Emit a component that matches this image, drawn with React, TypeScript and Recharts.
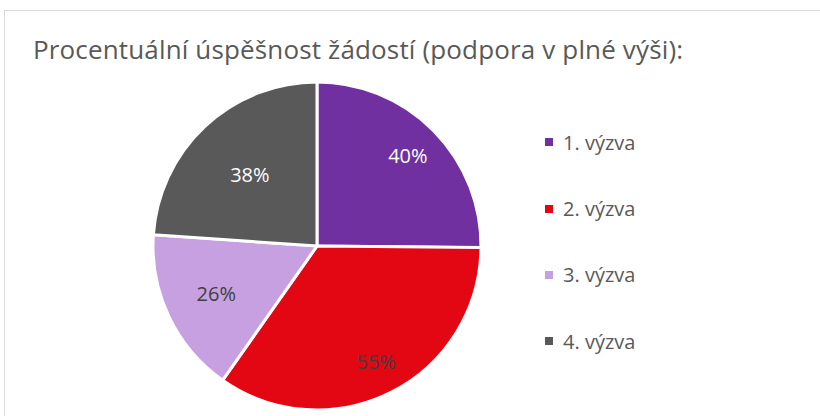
import { PieChart, Pie, Cell, Legend } from "recharts";

const categories = ["1. výzva", "2. výzva", "3. výzva", "4. výzva"];
const values = [40, 55, 26, 38];
const labels = ["40%", "55%", "26%", "38%"];

const COLORS = ["#7030a0", "#e30613", "#c6a0e0", "#595959"];
const LABEL_COLORS = ["#ffffff", "#404040", "#404040", "#ffffff"];
const LABEL_DIST = [0.78, 0.79, 0.68, 0.6];
const FONT = "'Open Sans', 'Noto Sans', sans-serif";

const data = categories.map((name, i) => ({ name, value: values[i], label: labels[i] }));

const renderLabel = (props: any) => {
  const { cx, cy, midAngle, outerRadius, index } = props;
  const RAD = Math.PI / 180;
  const r = outerRadius * LABEL_DIST[index];
  const x = cx + r * Math.cos(-midAngle * RAD);
  const y = cy + r * Math.sin(-midAngle * RAD);
  return (
    <text
      x={x}
      y={y}
      fill={LABEL_COLORS[index]}
      textAnchor="middle"
      dominantBaseline="central"
      fontSize={20}
      fontFamily={FONT}
    >
      {labels[index]}
    </text>
  );
};

const renderLegend = () => (
  <div style={{ fontFamily: FONT }}>
    {categories.map((c, i) => (
      <div
        key={c}
        style={{ display: "flex", alignItems: "center", height: 66.4, color: "#595959", fontSize: 20 }}
      >
        <span style={{ width: 8, height: 8, background: COLORS[i], marginRight: 10, display: "inline-block" }} />
        {c}
      </div>
    ))}
  </div>
);

export default function App() {
  return (
    <div
      style={{
        position: "absolute",
        left: 0,
        top: 0,
        width: 820,
        height: 416,
        overflow: "hidden",
        background: "#fff",
      }}
    >
      <div
        style={{
          position: "absolute",
          left: 4,
          top: 10,
          width: 900,
          height: 500,
          border: "1px solid #d9d9d9",
        }}
      />
      <div
        style={{
          position: "absolute",
          left: 33,
          top: 31,
          fontFamily: FONT,
          fontSize: 26,
          letterSpacing: 0.15,
          color: "#595959",
          whiteSpace: "nowrap",
        }}
      >
        Procentuální úspěšnost žádostí (podpora v plné výši):
      </div>
      <div style={{ position: "absolute", left: 0, top: 0 }}>
        <PieChart width={820} height={416} margin={{ top: 0, right: 0, bottom: 0, left: 0 }}>
          <Pie
            data={data}
            dataKey="value"
            nameKey="name"
            cx={317}
            cy={246}
            outerRadius={164}
            startAngle={90}
            endAngle={-270}
            stroke="#ffffff"
            strokeWidth={3}
            label={renderLabel}
            labelLine={false}
            isAnimationActive={false}
          >
            {data.map((d, i) => (
              <Cell key={d.name} fill={COLORS[i]} />
            ))}
          </Pie>
          <Legend
            content={renderLegend}
            wrapperStyle={{ left: 545, top: 109, width: 200 }}
          />
        </PieChart>
      </div>
    </div>
  );
}
